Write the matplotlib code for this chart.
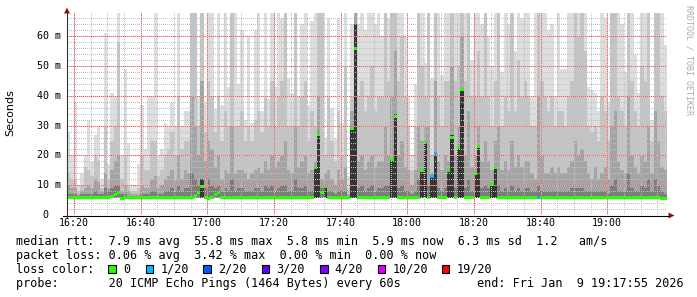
import numpy as np
import matplotlib.pyplot as plt
from matplotlib.patches import Rectangle, Polygon
from matplotlib.lines import Line2D

# ---- data (ms), one value per 60s step, 16:17:55 .. 19:17:55 ----
# smoke bands: every band starts at the min ping and reaches up to these levels
top1 = [28, 20, 38, 10, 14, 20, 32, 18, 27, 30, 12, 61, 17, 41, 40, 68, 20, 49, 24, 10,
        10, 17, 37, 22, 40, 40, 68, 20, 22, 31, 30, 38, 30, 68, 30, 35, 35, 68, 68, 40,
        68, 38, 68, 68, 36, 68, 37, 68, 43, 68, 68, 44, 62, 32, 60, 31, 62, 68, 35, 68,
        39, 68, 43, 68, 66, 68, 46, 41, 68, 40, 64, 68, 37, 65, 68, 68, 68, 26, 66, 36,
        26, 66, 31, 68, 13, 64, 68, 64, 68, 62, 68, 68, 64, 68, 60, 68, 66, 68, 68, 68,
        68, 60, 40, 20, 44, 68, 68, 51, 68, 46, 68, 68, 47, 68, 68, 68, 68, 68, 68, 68,
        68, 52, 68, 68, 64, 68, 60, 50, 68, 68, 48, 68, 64, 68, 55, 68, 66, 68, 68, 40,
        68, 68, 68, 68, 62, 64, 40, 68, 49, 49, 68, 68, 68, 68, 68, 68, 43, 42, 41, 35,
        68, 66, 38, 68, 68, 68, 64, 48, 68, 68, 54, 41, 68, 68, 68, 32, 68, 68, 68, 57]
top2 = [14, 12, 12, 8, 10, 16, 15, 13, 20, 18, 9, 30, 12, 25, 30, 58, 12, 20, 10, 8,
        8, 9, 20, 15, 15, 25, 25, 13, 15, 20, 22, 28, 20, 40, 22, 25, 25, 68, 68, 30,
        68, 28, 45, 40, 28, 40, 25, 35, 30, 68, 30, 30, 35, 25, 30, 25, 32, 35, 28, 40,
        30, 45, 30, 40, 45, 68, 30, 30, 68, 30, 40, 45, 25, 35, 30, 68, 68, 20, 40, 25,
        18, 35, 20, 50, 9, 40, 68, 40, 45, 35, 40, 50, 35, 40, 40, 68, 45, 68, 68, 45,
        60, 40, 30, 15, 30, 68, 50, 40, 68, 20, 68, 40, 30, 45, 45, 68, 45, 50, 68, 45,
        68, 40, 40, 55, 40, 68, 40, 30, 45, 68, 30, 40, 35, 68, 35, 52, 40, 45, 40, 30,
        30, 68, 45, 40, 35, 40, 30, 35, 35, 30, 40, 45, 68, 60, 68, 55, 30, 28, 30, 25,
        40, 35, 25, 68, 68, 40, 35, 30, 68, 45, 35, 30, 50, 45, 68, 25, 68, 68, 40, 35]
top3 = [10, 9, 9, 7, 8, 9, 10, 9, 12, 11, 8, 14, 9, 15, 18, 20, 8, 10, 8, 7,
        7, 7, 10, 9, 9, 12, 13, 9, 10, 12, 13, 15, 12, 20, 12, 15, 14, 40, 30, 20,
        45, 18, 25, 22, 16, 20, 12, 15, 14, 30, 14, 15, 15, 14, 12, 14, 15, 16, 14, 18,
        15, 20, 16, 18, 20, 25, 15, 14, 30, 16, 18, 20, 14, 15, 18, 40, 12, 14, 15, 12,
        10, 15, 12, 16, 7, 35, 68, 18, 20, 15, 18, 20, 16, 18, 18, 30, 20, 40, 55, 20,
        25, 16, 15, 10, 15, 30, 25, 30, 30, 14, 45, 18, 15, 20, 18, 50, 20, 30, 60, 20,
        35, 16, 20, 30, 18, 25, 18, 15, 25, 30, 15, 18, 15, 25, 16, 20, 16, 18, 18, 14,
        12, 40, 20, 14, 14, 16, 14, 16, 14, 14, 16, 18, 25, 20, 22, 18, 14, 12, 16, 12,
        14, 16, 12, 30, 35, 18, 15, 14, 40, 20, 16, 14, 20, 18, 30, 14, 35, 25, 16, 15]
top4 = [7, 7, 7, 6.5, 7, 7, 7, 7, 8, 7, 7, 9, 8, 9, 10, 10, 7, 7, 6.5, 6.5,
        6.5, 6.5, 7, 7, 7, 8, 8, 7, 7, 8, 8, 9, 8, 10, 8, 9, 9, 14, 12, 10,
        12, 9, 12, 10, 9, 10, 8, 9, 8, 12, 8, 9, 9, 8, 8, 8, 9, 9, 8, 10,
        9, 10, 8, 9, 10, 10, 8, 8, 12, 9, 9, 10, 8, 8, 16, 28, 9, 10, 8, 8,
        7, 8, 8, 8, 6.5, 30, 64, 9, 10, 8, 9, 10, 8, 9, 9, 10, 10, 19, 34, 9,
        10, 8, 8, 7, 8, 12, 15, 25, 10, 13, 21, 9, 8, 9, 15, 27, 9, 23, 42, 9,
        12, 8, 14, 23, 9, 10, 9, 11, 16, 10, 8, 9, 8, 10, 8, 9, 8, 9, 9, 8,
        8, 10, 8, 8, 8, 8, 8, 8, 8, 8, 8, 9, 9, 9, 9, 8, 8, 8, 8, 8,
        8, 8, 7, 10, 12, 8, 8, 8, 14, 9, 8, 8, 10, 9, 12, 8, 12, 10, 8, 7]
median = [5.9, 5.9, 5.9, 5.9, 5.9, 5.9, 5.9, 5.9, 5.9, 5.9, 5.9, 5.9, 5.9, 6.3, 7.0, 7.5, 5.7, 5.8, 5.9, 5.9,
          5.8, 5.8, 5.8, 5.8, 5.8, 5.8, 5.9, 5.9, 5.9, 5.8, 5.8, 5.8, 5.8, 5.9, 5.8, 5.9, 5.9, 6.0, 6.4, 7.5,
          9.6, 5.8, 5.7, 5.9, 7.0, 7.7, 5.9, 5.9, 5.9, 5.9, 5.9, 5.9, 5.9, 5.9, 5.9, 5.9, 5.9, 5.9, 5.9, 5.9,
          5.9, 5.9, 5.9, 5.9, 5.9, 5.9, 5.9, 5.9, 5.9, 5.9, 5.9, 5.9, 5.9, 5.9, 15.8, 27.0, 7.7, 9.4, 5.9, 5.9,
          5.9, 5.8, 5.9, 5.9, 5.9, 29.0, 55.8, 5.9, 5.9, 5.9, 5.9, 5.9, 5.9, 5.9, 5.9, 5.9, 5.9, 18.5, 33.0, 5.9,
          5.9, 5.9, 5.8, 5.8, 5.9, 5.9, 14.8, 24.5, 5.9, 12.8, 20.5, 5.9, 5.9, 5.9, 15.0, 26.0, 5.9, 22.8, 42.0, 5.9,
          5.9, 5.9, 14.0, 23.0, 5.9, 5.9, 5.9, 10.7, 16.0, 5.9, 5.9, 5.9, 5.9, 5.9, 5.9, 5.9, 5.9, 5.9, 5.9, 5.9,
          5.9, 5.9, 5.9, 5.9, 5.9, 5.9, 5.9, 5.9, 5.9, 5.9, 5.9, 5.9, 5.9, 5.9, 5.9, 5.9, 5.9, 5.9, 5.9, 5.9,
          5.9, 5.9, 5.9, 5.9, 5.9, 5.9, 5.9, 5.9, 5.9, 5.9, 5.9, 5.9, 5.9, 5.9, 5.9, 5.9, 5.9, 5.9, 5.6, 5.6]
loss = [0] * 180
for i in (109, 110, 141):
    loss[i] = 1
floor = 5.7

loss_steps = [0, 1, 2, 3, 4, 10, 19]
loss_labels = ['0', '1/20', '2/20', '3/20', '4/20', '10/20', '19/20']
loss_colors = ['#26ff00', '#00b8ff', '#0059ff', '#5e00ff', '#7e00ff', '#dd00ff', '#ff0000']

tick_times = ['16:20', '16:40', '17:00', '17:20', '17:40', '18:00', '18:20', '18:40', '19:00']

W, H = 697, 297
L, R, T, B = 67, 667, 13, 215
YMAX = 67.8
t0 = 16 * 60 + 17 + 55 / 60.


def fx(p):
    return p / W


def fy(p):
    return 1 - p / H


fig = plt.figure(figsize=(W / 100, H / 100), dpi=100)
ax = fig.add_axes([fx(L), fy(B), (R - L) / W, (B - T) / H])

x = t0 + np.arange(len(top1))
band_colors = ['#dddddd', '#c4c4c4', '#a4a4a4', '#7c7c7c']
for k, (tops, col) in enumerate(zip([top1, top2, top3, top4], band_colors)):
    cols = col
    if k == 3:
        # high-median columns are nearly black in their core
        cols = ['#363636' if m > 9 else col for m in median]
    ax.bar(x, np.array(tops) - floor, bottom=floor, width=1.0, align='edge',
           color=cols, linewidth=0, antialiased=False, zorder=1)

# dotted grid on top of the smoke, as a pixel-exact overlay
pw, ph = R - L, B - T
px_per_ms = ph / YMAX
px_per_min = pw / 180
grid = np.zeros((ph, pw, 4))
minor_rgba = (0.76, 0.76, 0.76, 1.0)
major_rgba = (0.93, 0.38, 0.38, 1.0)
major_soft = (0.97, 0.72, 0.72, 0.8)
for v in range(2, 68, 2):
    r = int(round(ph - v * px_per_ms))
    if 0 <= r < ph:
        if v % 10 == 0:
            grid[r, 1::2] = major_soft
            grid[r, ::2] = major_rgba
        else:
            grid[r, ::2] = minor_rgba
for m in range(16 * 60 + 20, 19 * 60 + 20, 5):
    c = int(round((m - t0) * px_per_min))
    if 0 <= c < pw:
        if m % 20 == 0:
            grid[1::2, c] = major_soft
            grid[::2, c] = major_rgba
        else:
            grid[::2, c] = minor_rgba
ax.imshow(grid, extent=(t0, t0 + 180, 0, YMAX), origin='upper',
          interpolation='nearest', aspect='auto', zorder=2)

# median markers coloured by loss
col_of = dict(zip(loss_steps, loss_colors))
mcols = [col_of[l] for l in loss]
ax.bar(x, 1.0, bottom=np.array(median) - 0.5, width=1.0, align='edge',
       color=mcols, linewidth=0, antialiased=False, zorder=3)

ax.set_xlim(t0, t0 + 180)
ax.set_ylim(0, YMAX)
ax.axis('off')

# axes lines and arrows
fig.add_artist(Line2D([fx(63), fx(669)], [fy(215.5)] * 2, color='black', lw=0.8))
fig.add_artist(Line2D([fx(66.5)] * 2, [fy(217), fy(12)], color='#333333', lw=0.8))
fig.add_artist(Polygon([(fx(64), fy(13.5)), (fx(70), fy(13.5)), (fx(67), fy(7.5))],
                       closed=True, color='#9b1010', lw=0))
fig.add_artist(Polygon([(fx(668.5), fy(212.5)), (fx(668.5), fy(218.5)), (fx(674.5), fy(215.5))],
                       closed=True, color='#9b1010', lw=0))

mono = 'DejaVu Sans Mono'
for v in range(0, 70, 10):
    ypx = B - v * px_per_ms
    if v == 0:
        fig.text(fx(48.5), fy(ypx), '0', ha='right', va='center', fontsize=7.2, family=mono)
    else:
        fig.text(fx(60.5), fy(ypx), f'{v} m', ha='right', va='center', fontsize=7.2, family=mono)

for lab in tick_times:
    hh, mm = lab.split(':')
    m = int(hh) * 60 + int(mm)
    xpx = L + (m - t0) * px_per_min
    fig.text(fx(xpx), fy(223.5), lab, ha='center', va='center', fontsize=7.2, family=mono)

fig.text(fx(10.5), fy(113), 'Seconds', rotation=90, ha='center', va='center', fontsize=8)
fig.text(fx(689), fy(5), 'RRDTOOL / TOBI OETIKER', rotation=270, ha='center', va='top',
         fontsize=6, color='#ababab', family=mono)

# legend lines
x0 = 15.5
fs = 8.5
fig.text(fx(x0), fy(245.3),
         'median rtt:  7.9 ms avg  55.8 ms max  5.8 ms min  5.9 ms now  6.3 ms sd  1.2   am/s',
         va='baseline', fontsize=fs, family=mono)
fig.text(fx(x0), fy(259.1),
         'packet loss: 0.06 % avg  3.42 % max  0.00 % min  0.00 % now',
         va='baseline', fontsize=fs, family=mono)
fig.text(fx(x0), fy(272.9), 'loss color:', va='baseline', fontsize=fs, family=mono)
box_x = [108.3, 145.7, 203.3, 261.7, 320, 377.7, 441.7]
for bx, lab, col in zip(box_x, loss_labels, loss_colors):
    fig.add_artist(Rectangle((fx(bx), fy(273)), 7.5 / W, 8 / H, facecolor=col,
                             edgecolor='black', lw=0.8))
    fig.text(fx(bx + 14.5), fy(272.9), lab, va='baseline', fontsize=fs, family=mono)
fig.text(fx(x0), fy(286.7), 'probe:       20 ICMP Echo Pings (1464 Bytes) every 60s',
         va='baseline', fontsize=fs, family=mono)
fig.text(fx(477), fy(286.7), 'end: Fri Jan  9 19:17:55 2026',
         va='baseline', fontsize=fs, family=mono)

fig.savefig('out.png', dpi=100)
